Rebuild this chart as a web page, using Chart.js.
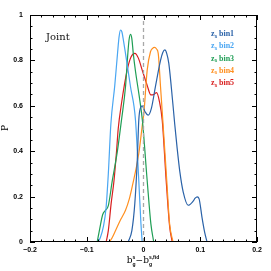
<!DOCTYPE html>
<html>
<head>
<meta charset="utf-8">
<script src="https://cdn.jsdelivr.net/npm/chart.js@4/dist/chart.umd.min.js"></script>
<style>
html,body{margin:0;padding:0;background:#fff;}
#wrap{width:271px;height:271px;position:relative;}
</style>
</head>
<body>
<div id="wrap"><canvas id="c" width="271" height="271"></canvas></div>
<script>
// ---- data ----
const seriesNames = ['bin1', 'bin2', 'bin3', 'bin4', 'bin5'];

const bin1X = [-0.027, -0.0205, -0.0153, -0.011, -0.0083, -0.0055, -0.0023, 0.0025, 0.0083, 0.014, 0.021, 0.030, 0.034, 0.0376, 0.041, 0.0446, 0.0517, 0.055, 0.059, 0.064, 0.070, 0.0788, 0.0875, 0.091, 0.0946, 0.098, 0.103, 0.108, 0.112];
const bin1Y = [0, 0.05, 0.17, 0.36, 0.537, 0.59, 0.6, 0.575, 0.559, 0.59, 0.684, 0.80, 0.835, 0.846, 0.83, 0.787, 0.61, 0.52, 0.42, 0.31, 0.22, 0.162, 0.18, 0.193, 0.199, 0.19, 0.11, 0.04, 0];

const bin2X = [-0.0805, -0.076, -0.0705, -0.066, -0.062, -0.0575, -0.0506, -0.0458, -0.043, -0.0405, -0.038, -0.0355, -0.0317, -0.0229, -0.0141, -0.0083, -0.0045, -0.0023];
const bin2Y = [0, 0.02, 0.07, 0.15, 0.3, 0.52, 0.69, 0.83, 0.905, 0.934, 0.925, 0.89, 0.83, 0.684, 0.537, 0.27, 0.08, 0];

const bin3X = [-0.0816, -0.077, -0.072, -0.067, -0.062, -0.055, -0.046, -0.0388, -0.0317, -0.0276, -0.0255, -0.0229, -0.0205, -0.018, -0.014, -0.008, -0.002, 0.0065, 0.013, 0.018];
const bin3Y = [0, 0.06, 0.12, 0.14, 0.16, 0.27, 0.40, 0.537, 0.684, 0.83, 0.89, 0.915, 0.895, 0.83, 0.75, 0.65, 0.537, 0.27, 0.08, 0];

const bin4X = [-0.060, -0.055, -0.049, -0.040, -0.0317, -0.025, -0.02, -0.0083, -0.001, 0.0006, 0.0065, 0.0123, 0.016, 0.0194, 0.023, 0.026, 0.030, 0.034, 0.041, 0.046, 0.052];
const bin4Y = [0, 0.02, 0.052, 0.10, 0.14, 0.19, 0.243, 0.39, 0.537, 0.566, 0.757, 0.838, 0.853, 0.857, 0.85, 0.83, 0.684, 0.537, 0.27, 0.08, 0];

const bin5X = [-0.0658, -0.062, -0.057, -0.052, -0.0475, -0.0445, -0.0388, -0.0288, -0.022, -0.0153, -0.009, -0.0023, 0.0065, 0.013, 0.018, 0.023, 0.028, 0.033, 0.040, 0.046, 0.0506];
const bin5Y = [0, 0.05, 0.17, 0.27, 0.40, 0.50, 0.61, 0.757, 0.815, 0.831, 0.81, 0.757, 0.69, 0.648, 0.65, 0.658, 0.62, 0.537, 0.27, 0.07, 0];

const refLineX = [0, 0];
const refLineY = [0, 1];

const xTickLabels = ['\u22120.2', '\u22120.1', '0', '0.1', '0.2'];
const yTickLabels = ['0', '0.2', '0.4', '0.6', '0.8', '1'];

// ---- styles ----
const colors = ['#2a62a8', '#4aa6f2', '#1f9e55', '#ff8f1f', '#d81e1e'];
const allX = [bin1X, bin2X, bin3X, bin4X, bin5X];
const allY = [bin1Y, bin2Y, bin3Y, bin4Y, bin5Y];

function pts(xs, ys) { return xs.map((v, i) => ({ x: v, y: ys[i] })); }

const datasets = [{
  label: 'fid',
  data: pts(refLineX, refLineY),
  borderColor: '#a8a8a8',
  borderWidth: 1.3,
  borderDash: [4, 3],
  pointRadius: 0,
  showLine: true
}];
seriesNames.forEach((n, i) => {
  datasets.push({
    label: n,
    data: pts(allX[i], allY[i]),
    borderColor: colors[i],
    borderWidth: 1.2,
    pointRadius: 0,
    showLine: true,
    cubicInterpolationMode: 'monotone'
  });
});

const tickFont = { family: '"Liberation Sans", Arial, sans-serif', size: 7, weight: 'bold' };

const decor = {
  id: 'decor',
  afterDraw(chart) {
    const { ctx, chartArea: a, scales: { x, y } } = chart;
    ctx.save();
    ctx.strokeStyle = '#000';
    ctx.lineWidth = 1;
    ctx.strokeRect(a.left + 0.5, a.top + 0.5, a.right - a.left - 1, a.bottom - a.top - 1);
    ctx.beginPath();
    for (let i = 0; i <= 20; i++) {
      const px = Math.round(x.getPixelForValue(-0.2 + i * 0.02)) + 0.5;
      const len = (i % 5 === 0) ? 5 : 2.5;
      ctx.moveTo(px, a.bottom); ctx.lineTo(px, a.bottom - len);
      ctx.moveTo(px, a.top); ctx.lineTo(px, a.top + len);
    }
    for (let i = 0; i <= 20; i++) {
      const py = Math.round(y.getPixelForValue(i * 0.05)) + 0.5;
      const len = (i % 4 === 0) ? 5 : 2.5;
      ctx.moveTo(a.left, py); ctx.lineTo(a.left + len, py);
      ctx.moveTo(a.right, py); ctx.lineTo(a.right - len, py);
    }
    ctx.stroke();

    // "Joint" label
    ctx.fillStyle = '#111';
    ctx.font = '10px "DejaVu Serif", serif';
    ctx.textBaseline = 'alphabetic';
    ctx.textAlign = 'left';
    ctx.fillText('Joint', 46, 40);

    // legend
    seriesNames.forEach((n, i) => {
      const yy = 36 + i * 12.3;
      ctx.fillStyle = colors[i];
      ctx.font = 'bold 8px "Liberation Serif", serif';
      ctx.fillText('z', 211, yy);
      const zw = ctx.measureText('z').width;
      ctx.font = 'bold 5px "Liberation Sans", sans-serif';
      ctx.fillText('s', 211 + zw, yy + 1.5);
      ctx.font = 'bold 8px "Liberation Serif", serif';
      ctx.fillText(n, 219, yy);
    });

    // y title
    ctx.fillStyle = '#000';
    ctx.save();
    ctx.translate(8, 128);
    ctx.rotate(-Math.PI / 2);
    ctx.font = '9px "DejaVu Serif", serif';
    ctx.textAlign = 'center';
    ctx.fillText('P', 0, 0);
    ctx.restore();

    // x title: b_g^s − b_g^{s,fid}
    const big = '9px "DejaVu Serif", serif';
    const small = 'bold 5px "Liberation Sans", sans-serif';
    const parts = [
      { t: 'b', f: big, dy: 0, adv: true },
      { t: 'g', f: small, dy: 2.5, adv: false },
      { t: 's', f: small, dy: -4, adv: true },
      { t: '\u2212', f: big, dy: 0, adv: true },
      { t: 'b', f: big, dy: 0, adv: true },
      { t: 'g', f: small, dy: 2.5, adv: false },
      { t: 's,fid', f: small, dy: -4, adv: true }
    ];
    let total = 0, pend = 0;
    parts.forEach(p => { ctx.font = p.f; const w = ctx.measureText(p.t).width; if (p.adv) { total += Math.max(w, pend); pend = 0; } else pend = w; });
    let cx = 143 - total / 2; pend = 0;
    const base = 263;
    parts.forEach(p => {
      ctx.font = p.f;
      const w = ctx.measureText(p.t).width;
      ctx.fillText(p.t, cx, base + p.dy);
      if (p.adv) { cx += Math.max(w, pend); pend = 0; } else pend = w;
    });
    ctx.restore();
  }
};

new Chart(document.getElementById('c'), {
  type: 'scatter',
  data: { datasets },
  options: {
    responsive: false,
    animation: false,
    events: [],
    layout: { padding: { top: 15, right: 14, left: 0, bottom: 0 } },
    plugins: { legend: { display: false }, tooltip: { enabled: false } },
    scales: {
      x: {
        type: 'linear', min: -0.2, max: 0.2,
        afterFit: s => { s.height = 29; },
        grid: { display: false, drawTicks: false },
        border: { display: false },
        ticks: {
          stepSize: 0.1, padding: 4, color: '#000', font: tickFont, maxRotation: 0,
          callback: (v, i) => xTickLabels[i]
        }
      },
      y: {
        type: 'linear', min: 0, max: 1,
        afterFit: s => { s.width = 30; },
        grid: { display: false, drawTicks: false },
        border: { display: false },
        ticks: {
          stepSize: 0.2, padding: 7, color: '#000', font: tickFont,
          callback: (v, i) => yTickLabels[i]
        }
      }
    }
  },
  plugins: [decor]
});
</script>
</body>
</html>
